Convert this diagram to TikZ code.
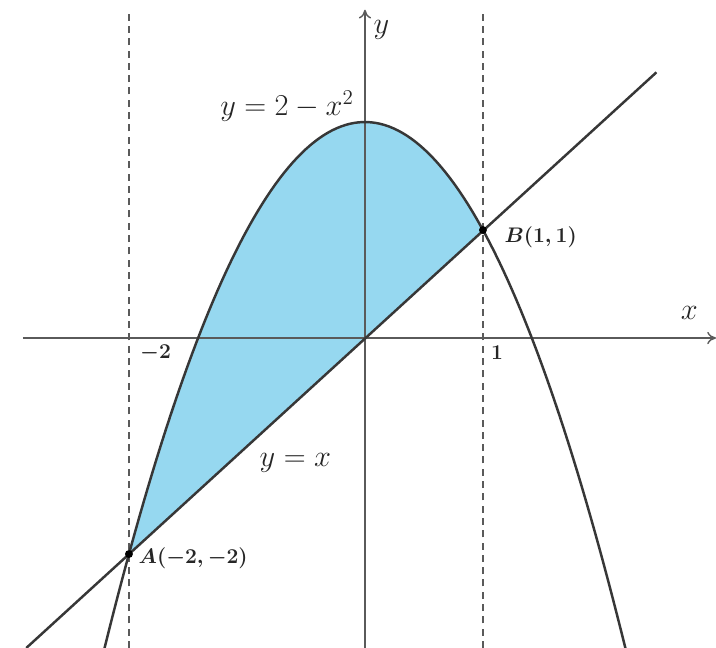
\documentclass[tikz,border=0pt]{standalone}
\usetikzlibrary{arrows.meta}
\definecolor{areablue}{RGB}{150,216,240}
\definecolor{curvegray}{RGB}{55,55,55}
\definecolor{axisgray}{RGB}{90,90,90}
\begin{document}
\begin{tikzpicture}[x=2.36cm,y=2.16cm,
  curve/.style={draw=curvegray,line width=1.4pt},
  axisline/.style={draw=axisgray,line width=0.8pt,-{To[length=5pt,width=7pt]}},
  guide/.style={draw=axisgray,line width=0.9pt,dash pattern=on 4pt off 3pt},
  dot/.style={circle,fill=black,inner sep=0pt,minimum size=4.5pt},
  biglabel/.style={font=\fontsize{17}{20}\selectfont,text=black!85},
  smalllabel/.style={font=\fontsize{12.5}{15}\selectfont\boldmath,text=black!85}]
\useasboundingbox (-3.093,-2.870) rectangle (2.975,3.130);
\fill[white] (-3.093,-2.870) rectangle (2.975,3.130);
% shaded region
\fill[areablue] plot[domain=-2:1,samples=100] (\x,{2-\x*\x}) -- cycle;
% guides
\draw[guide] (-2,-2.87) -- (-2,3.02);
\draw[guide] (1,-2.87) -- (1,3.02);
% axes
\coordinate (xl) at (-2.90,0);
\coordinate (xr) at (2.975,0);
\coordinate (yb) at (0,-2.87);
\coordinate (yt) at (0,3.04);
\draw[axisline] (xl) -- (xr);
\draw[axisline] (yb) -- (yt);
% curves
\draw[curve] plot[domain=-2.21:2.21,samples=120] (\x,{2-\x*\x});
\coordinate (L1) at (-2.87,-2.87);
\coordinate (L2) at (2.47,2.46);
\draw[curve] (L1) -- (L2);
% points
\node[dot] (A) at (-2,-2) {};
\node[dot] (B) at (1,1) {};
\node[smalllabel,anchor=west] (Alab) at (-1.97,-2.04) {$A(-2,-2)$};
\node[smalllabel,anchor=west] (Blab) at (1.13,0.93) {$B(1,1)$};
% tick labels
\node[smalllabel] (m2) at (-1.775,-0.14) {$-2$};
\node[smalllabel] (one) at (1.12,-0.14) {$1$};
% axis labels
\node[biglabel] (xlab) at (2.75,0.23) {$x$};
\node[biglabel] (ylab) at (0.14,2.85) {$y$};
% curve labels
\node[biglabel] (plab) at (-0.66,2.15) {$y=2-x^2$};
\node[biglabel] (llab) at (-0.59,-1.16) {$y=x$};
\end{tikzpicture}
\end{document}
